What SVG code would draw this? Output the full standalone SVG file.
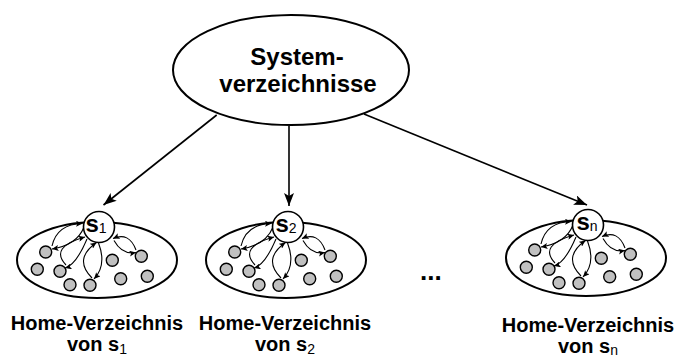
<svg xmlns="http://www.w3.org/2000/svg" xmlns:xlink="http://www.w3.org/1999/xlink" width="677" height="359" viewBox="0 0 677 359">
<style>
  .big { fill: #fff; stroke: #000; stroke-width: 2; }
  .home { fill: #fff; stroke: #000; stroke-width: 2; }
  .srv { fill: #fff; stroke: #000; stroke-width: 1.6; }
  .dot { fill: #c0c0c0; stroke: #000; stroke-width: 1.4; }
  .main { fill: none; stroke: #000; stroke-width: 1.6; marker-end: url(#bigArrow); }
  .inner { fill: none; stroke: #000; stroke-width: 1.1; marker-end: url(#smallArrow); }
  text { font-family: "Liberation Sans", Arial, sans-serif; font-weight: bold; fill: #000; }
  .title { font-size: 24px; text-anchor: middle; }
  .lbl { font-size: 20px; text-anchor: middle; }
  .sname { font-size: 24px; text-anchor: middle; }
  .sub { font-size: 14px; font-weight: normal; }
</style>
<defs>
  <marker id="bigArrow" markerUnits="userSpaceOnUse" markerWidth="14" markerHeight="10" refX="13" refY="5" orient="auto">
    <path d="M0,0 L13,5 L0,10 L3,5 Z" fill="#000"/>
  </marker>
  <marker id="smallArrow" markerUnits="userSpaceOnUse" markerWidth="7" markerHeight="6" refX="6.5" refY="3" orient="auto">
    <path d="M0,0 L6.5,3 L0,6 L1.5,3 Z" fill="#000"/>
  </marker>
  <g id="cluster">
    <ellipse class="home" cx="-2" cy="33" rx="80" ry="38"/>
    <circle class="dot" cx="-53.3" cy="25" r="6"/>
    <circle class="dot" cx="-61.7" cy="42.3" r="6"/>
    <circle class="dot" cx="-39" cy="44.3" r="6"/>
    <circle class="dot" cx="-29" cy="57.7" r="6"/>
    <circle class="dot" cx="-9" cy="58.3" r="6"/>
    <circle class="dot" cx="13.3" cy="33.3" r="6"/>
    <circle class="dot" cx="42.3" cy="29.3" r="6"/>
    <circle class="dot" cx="21.7" cy="51.7" r="6"/>
    <circle class="dot" cx="48.3" cy="49.3" r="6"/>
    <g class="inner-connectors">
      <path class="inner" d="M-47,19 Q-42,-3 -16.5,-3.5"/>
      <path class="inner" d="M-15,0 Q-22,18 -47,22"/>
      <path class="inner" d="M-33,38 Q-50,20 -14,10"/>
      <path class="inner" d="M-12,12 Q-23,38 -34,41"/>
      <path class="inner" d="M-7,51 Q-26,32 -2.5,15.5"/>
      <path class="inner" d="M-0.5,16 Q8,38 -5,52"/>
      <path class="inner" d="M37,23 Q30,4.5 14,11.5"/>
      <path class="inner" d="M15,13.5 Q23,28 37,25.5"/>
    </g>
    <circle class="srv" cx="0" cy="0" r="15.5"/>
  </g>
</defs>

<g id="connectors">
  <line class="main" x1="216.7" y1="115" x2="103.5" y2="205"/>
  <line class="main" x1="289" y1="126" x2="289" y2="206"/>
  <line class="main" x1="364" y1="114" x2="587" y2="205"/>
</g>

<g id="systemverzeichnisse">
  <ellipse class="big" cx="291" cy="70" rx="118" ry="55"/>
  <text class="title" x="297" y="65">System-</text>
  <text class="title" x="298" y="92">verzeichnisse</text>
</g>

<g id="home-s1">
  <use xlink:href="#cluster" transform="translate(99,227)"/>
  <text class="sname" x="96" y="232">s<tspan class="sub" dy="1">1</tspan></text>
  <text class="lbl" x="97" y="330">Home-Verzeichnis</text>
  <text class="lbl" x="97" y="351">von s<tspan class="sub" dy="3">1</tspan></text>
</g>

<g id="home-s2">
  <use xlink:href="#cluster" transform="translate(288,227)"/>
  <text class="sname" x="286" y="232">s<tspan class="sub" dy="1">2</tspan></text>
  <text class="lbl" x="285" y="330">Home-Verzeichnis</text>
  <text class="lbl" x="285" y="351">von s<tspan class="sub" dy="3">2</tspan></text>
</g>

<g id="ellipsis">
  <text x="420" y="280" style="font-size:26px;">...</text>
</g>

<g id="home-sn">
  <use xlink:href="#cluster" transform="translate(588,225)"/>
  <text class="sname" x="587" y="230">s<tspan class="sub" dy="1">n</tspan></text>
  <text class="lbl" x="588" y="332">Home-Verzeichnis</text>
  <text class="lbl" x="588" y="353">von s<tspan class="sub" dy="2">n</tspan></text>
</g>
</svg>
